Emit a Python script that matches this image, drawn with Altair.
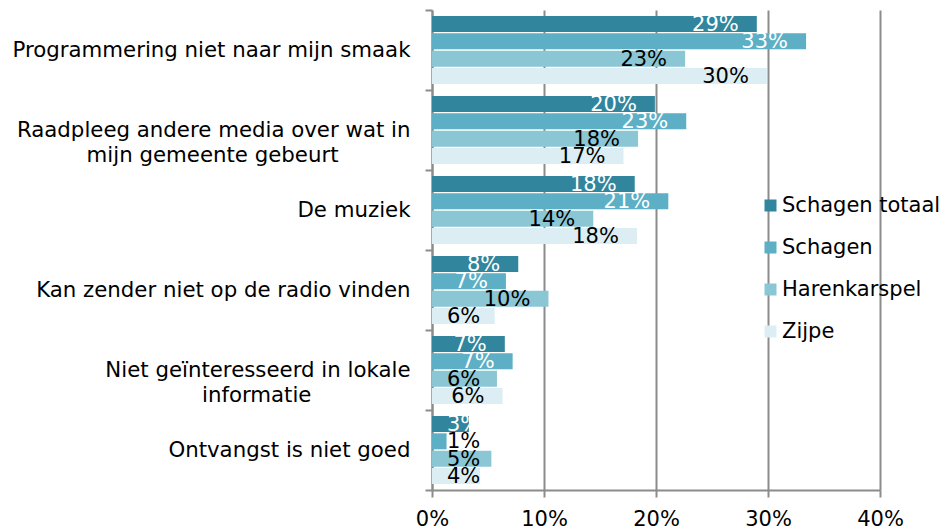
import altair as alt
import pandas as pd

categories = [
    "Programmering niet naar mijn smaak",
    "Raadpleeg andere media over wat in\nmijn gemeente gebeurt",
    "De muziek",
    "Kan zender niet op de radio vinden",
    "Niet geïnteresseerd in lokale\ninformatie",
    "Ontvangst is niet goed",
]
series = ["Schagen totaal", "Schagen", "Harenkarspel", "Zijpe"]
schagen_totaal = [29.0, 19.9, 18.1, 7.7, 6.5, 3.3]
schagen = [33.4, 22.7, 21.1, 6.6, 7.2, 1.3]
harenkarspel = [22.6, 18.4, 14.4, 10.4, 5.8, 5.3]
zijpe = [29.9, 17.1, 18.3, 5.6, 6.3, 4.3]
x_ticks = [0, 10, 20, 30, 40]
colors = ["#31859C", "#5CAFC5", "#8BC6D4", "#DCEEF3"]

NB = "\u00a0"
ZW = "\u200b"  # keeps the trailing no-break spaces from being trimmed
# pad the second line so it sits centred under the first (Excel style)
second_line_pad = {1: NB * 10 + "\u2009" + ZW, 4: NB * 14 + "\u2009" + ZW}


def display(i, c):
    if "\n" in c:
        a, b = c.split("\n")
        return a + "\n" + b + second_line_pad.get(i, "")
    return c


cat_disp = [display(i, c) for i, c in enumerate(categories)]

rows = []
for si, (s, vals) in enumerate(zip(series, [schagen_totaal, schagen, harenkarspel, zijpe])):
    for ci, c in enumerate(cat_disp):
        rows.append({"cat": c, "series": s, "si": si, "v": vals[ci]})
df = pd.DataFrame(rows)

FONT = "DejaVu Sans"
GREY = "#8c8c8c"

base = alt.Chart(df).encode(
    y=alt.Y(
        "cat:N",
        sort=cat_disp,
        scale=alt.Scale(paddingInner=0, paddingOuter=0),
        axis=alt.Axis(
            title=None,
            labelFont=FONT,
            labelFontSize=21.3,
            labelColor="black",
            labelLimit=430,
            labelPadding=15,
            labelLineHeight=25,
            labelExpr="split(datum.label, '\\n')",
            tickBand="extent",
            tickSize=7,
            tickWidth=2,
            tickColor=GREY,
            domainColor=GREY,
            domainWidth=2,
            grid=False,
        ),
    ),
    yOffset=alt.YOffset(
        "series:N",
        sort=series,
        scale=alt.Scale(paddingInner=0.077, paddingOuter=0.346),
    ),
)

xscale = alt.Scale(domain=[0, 40], nice=False)
xaxis = alt.Axis(
    title=None,
    values=x_ticks,
    labelExpr="datum.value + '%'",
    labelFont=FONT,
    labelFontSize=21,
    labelColor="black",
    labelPadding=11,
    labelFlush=False,
    labelOverlap=False,
    grid=True,
    gridColor=GREY,
    gridWidth=2,
    domainColor=GREY,
    domainWidth=2,
    tickSize=7,
    tickWidth=2,
    tickColor=GREY,
)

bars = base.mark_bar().encode(
    x=alt.X("v:Q", scale=xscale, axis=xaxis),
    color=alt.Color(
        "series:N",
        sort=series,
        scale=alt.Scale(domain=series, range=colors),
        legend=alt.Legend(
            title=None,
            orient="none",
            direction="vertical",
            legendX=328,
            legendY=185,
            symbolType="square",
            symbolSize=144,
            symbolStrokeWidth=0,
            labelFont=FONT,
            labelFontSize=21,
            labelColor="black",
            labelOffset=1,
            rowPadding=20,
            labelLimit=300,
        ),
    ),
)

text = base.mark_text(
    align="right", baseline="middle", dy=1, fontSize=21, font=FONT
).transform_calculate(
    lbl="round(datum.v) + '%'",
    lx="max(datum.v - 1.61, 1.34 + (round(datum.v) < 10 ? 2.97 : 4.17))",
    tc="(datum.si < 2 && datum.v >= 2) ? 'white' : 'black'",
).encode(
    x=alt.X("lx:Q", scale=xscale, axis=xaxis),
    text="lbl:N",
    color=alt.Color("tc:N", scale=None),
)

chart = (
    alt.layer(bars, text)
    .properties(
        width=448,
        height=480,
        padding={"left": 424, "top": 2, "right": 61, "bottom": 39},
        autosize=alt.AutoSizeParams(type="none"),
    )
    .configure_view(stroke=None)
)

chart.save("out.html", embed_options={"renderer": "svg", "actions": False})
